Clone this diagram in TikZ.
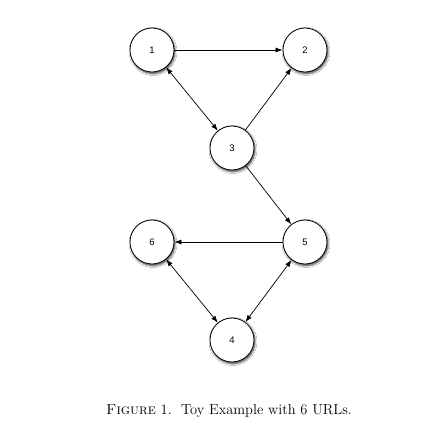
\documentclass[tikz,border=0pt]{standalone}
\usepackage{fontspec}
\newfontfamily\nodefont{Liberation Sans}
\usetikzlibrary{arrows.meta,shadows.blur}
\tikzset{
  urlnode/.style={circle,draw=black,line width=0.8pt,fill=white,minimum size=44pt,inner sep=0pt,
    font=\nodefont\fontsize{9.5}{11}\selectfont,
    blur shadow={shadow xshift=1pt,shadow yshift=-1.5pt,shadow blur steps=6,shadow blur radius=2pt,shadow opacity=80}},
  link/.style={line width=0.7pt,-{Latex[length=7pt,width=5pt]}},
  dlink/.style={line width=0.7pt,{Latex[length=7pt,width=5pt]}-{Latex[length=7pt,width=5pt]}}
}
\begin{document}
\begin{tikzpicture}[x=1pt,y=-1pt]
\fill[white] (0,0) rectangle (445,430);
\useasboundingbox (0,0) rectangle (445,430);
\node[urlnode] (n1) at (152,50) {1};
\node[urlnode] (n2) at (305,50) {2};
\node[urlnode] (n3) at (232,148) {3};
\node[urlnode] (n5) at (305,242) {5};
\node[urlnode] (n6) at (152,242) {6};
\node[urlnode] (n4) at (232,340) {4};
\draw[link] (n1) -- (n2);
\draw[dlink] (n1) -- (n3);
\draw[link] (n3) -- (n2);
\draw[link] (n3) -- (n5);
\draw[link] (n5) -- (n6);
\draw[dlink] (n6) -- (n4);
\draw[dlink] (n5) -- (n4);
\node[font=\fontsize{14.5}{17}\selectfont] (cap) at (229,411) {\textsc{Figure} 1.\ \ Toy Example with 6 URLs.};
\end{tikzpicture}
\end{document}
